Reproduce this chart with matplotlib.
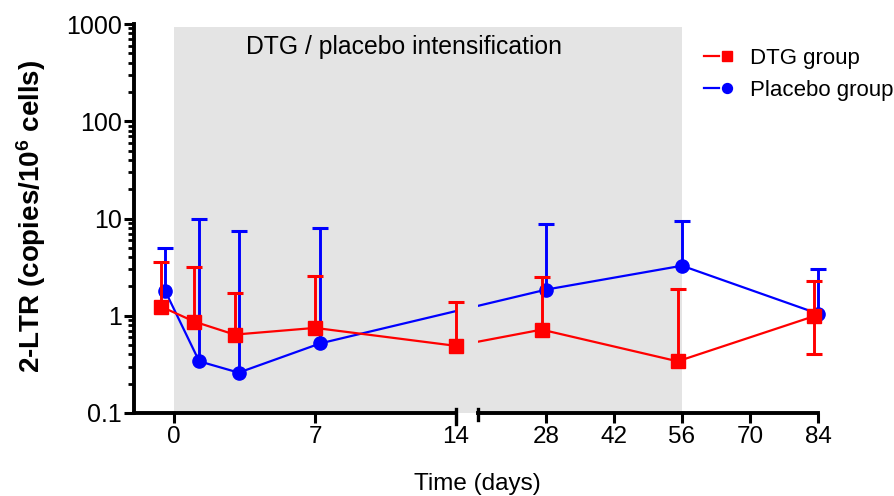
import numpy as np
import matplotlib
matplotlib.use('Agg')
import matplotlib.pyplot as plt
from matplotlib.legend_handler import HandlerTuple

plt.rcParams['font.family'] = ['Liberation Sans', 'DejaVu Sans']
plt.rcParams['mathtext.default'] = 'regular'

## data
dtg_days = np.array([-0.65, 1.0, 3.0, 7.0, 14.0, 27.1, 55.1, 83.2])
dtg_mean = np.array([1.24, 0.87, 0.64, 0.75, 0.49, 0.72, 0.34, 0.99])
dtg_upper = np.array([3.6, 3.15, 1.72, 2.56, 1.39, 2.5, 1.89, 2.27])
dtg_lower = np.array([np.nan, np.nan, np.nan, np.nan, np.nan, np.nan, np.nan, 0.40])

pbo_days = np.array([-0.45, 1.24, 3.2, 7.26, 28.1, 56.0, 84.0])
pbo_mean = np.array([1.80, 0.34, 0.26, 0.52, 1.86, 3.27, 1.05])
pbo_upper = np.array([5.0, 10.0, 7.45, 8.07, 8.87, 9.5, 3.02])
pbo_lower = np.full(len(pbo_days), np.nan)

left_ticks = [0, 7, 14]
right_ticks = [28, 42, 56, 70, 84]
y_ticks = [0.1, 1, 10, 100, 1000]
y_ticklabels = ['0.1', '1', '10', '100', '1000']

## broken time axis: 0-14 days wide, 14-84 days compressed, small gap between
BRK = 14.0
GAP = 1.093
K = 0.2413


def fwd(x):
    x = np.asarray(x, dtype=float)
    return np.where(x <= BRK, x, BRK + GAP + (x - BRK) * K)


def inv(u):
    u = np.asarray(u, dtype=float)
    return np.where(u <= BRK, u, np.where(u < BRK + GAP, BRK, BRK + (u - BRK - GAP) / K))


fig = plt.figure(figsize=(8.94, 4.96), dpi=100)
ax_l = fig.add_axes([134 / 894, 83 / 496, 322 / 894, 389 / 496])
ax_r = fig.add_axes([478 / 894, 83 / 496, 340 / 894, 389 / 496], facecolor='none')

red = '#ff0000'
blue = '#0000ff'

ax_l.axvspan(0, 56, ymin=0, ymax=0.992, color='#e4e4e4', lw=0, zorder=0, clip_on=False)

handles = {}
for ax, in_range in [(ax_l, lambda d: d <= BRK), (ax_r, lambda d: d > BRK)]:
    ax.set_xscale('function', functions=(fwd, inv))
    ax.set_yscale('log')
    for days, mean, up, lo, col, mk, ms, lab in [
            (pbo_days, pbo_mean, pbo_upper, pbo_lower, blue, 'o', 9.5, 'Placebo group'),
            (dtg_days, dtg_mean, dtg_upper, dtg_lower, red, 's', 10, 'DTG group')]:
        ln, = ax.plot(days, mean, '-', color=col, lw=1.6)
        ii = in_range(days)
        ax.vlines(days[ii], mean[ii], up[ii], color=col, lw=2.1, clip_on=False)
        ax.plot(days[ii], up[ii], ls='none', marker='_', ms=11.3, mew=2.2, color=col, clip_on=False)
        jj = ii & ~np.isnan(lo)
        if jj.any():
            ax.vlines(days[jj], lo[jj], mean[jj], color=col, lw=2.1, clip_on=False)
            ax.plot(days[jj], lo[jj], ls='none', marker='_', ms=11.3, mew=2.2, color=col, clip_on=False)
        mrk, = ax.plot(days[ii], mean[ii], ls='none', marker=mk, ms=ms, color=col, mec=col, clip_on=False)
        handles[lab] = (ln, mrk)
    ax.set_ylim(0.1, 1000)
    for s in ['top', 'right']:
        ax.spines[s].set_visible(False)
    ax.spines['bottom'].set_linewidth(2.8)
    ax.tick_params(axis='x', direction='out', length=7.2, width=2.2, labelsize=17.5, pad=2)

ax_l.set_xlim(-2, 14)
ax_r.set_xlim(14.000001, 84)
ax_l.set_xticks(left_ticks)
ax_l.set_xticklabels([str(t) for t in left_ticks])
ax_r.set_xticks(right_ticks)
ax_r.set_xticklabels([str(t) for t in right_ticks])

ax_l.spines['left'].set_linewidth(2.8)
ax_l.set_yticks(y_ticks)
ax_l.set_yticklabels(y_ticklabels)
ax_l.tick_params(axis='y', which='major', direction='out', length=7.2, width=2.2, labelsize=18, pad=1.5)
ax_l.tick_params(axis='y', which='minor', direction='out', length=4.3, width=2.0)

ax_r.spines['left'].set_visible(False)
ax_r.tick_params(axis='y', which='both', left=False, labelleft=False)
ax_r.minorticks_off()
ax_l.xaxis.set_minor_locator(plt.NullLocator())

# break marks
ax_l.plot([1, 1], [0.0103, -0.028], color='k', lw=2.4, transform=ax_l.transAxes, clip_on=False)
ax_r.plot([0, 0], [0.0103, -0.018], color='k', lw=2.4, transform=ax_r.transAxes, clip_on=False)

ax_l.text(0.8385, 0.941, 'DTG / placebo intensification', fontsize=17.8,
          ha='center', va='center', transform=ax_l.transAxes, clip_on=False)

ax_l.set_ylabel('2-LTR (copies/10$^{6}$ cells)', fontsize=20, fontweight='bold')
ax_l.yaxis.set_label_coords(-0.268, 0.506)

fig.text(477 / 894, 6 / 496, 'Time (days)', fontsize=17.5, ha='center', va='baseline')

ax_r.legend([handles['DTG group'], handles['Placebo group']], ['DTG group', 'Placebo group'],
            handler_map={tuple: HandlerTuple(ndivide=None)},
            loc='upper left', bbox_to_anchor=(704 / 894, 1 - 48 / 496), bbox_transform=fig.transFigure,
            frameon=False, borderpad=0, borderaxespad=0, fontsize=16,
            handlelength=1.35, handletextpad=0.7, labelspacing=0.48, markerscale=0.75)

fig.savefig('out.png', dpi=100)
